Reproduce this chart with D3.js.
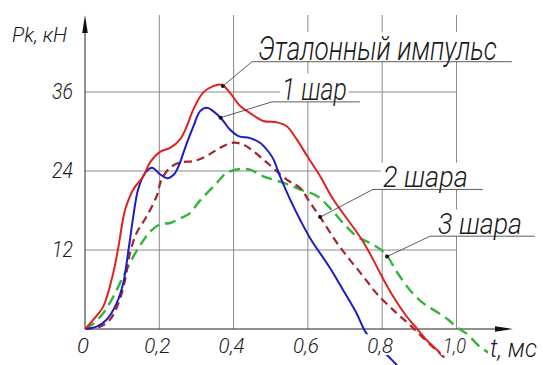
<!DOCTYPE html>
<html>
<head>
<meta charset="utf-8">
<script src="https://cdn.jsdelivr.net/npm/d3@7"></script>
<style>
  body { margin: 0; background: #fff; }
  text { font-family: Roboto, Lato, "Open Sans", sans-serif; font-weight: 300; font-style: italic; fill: #1a1a1a; }
</style>
</head>
<body>
<div id="chart"></div>
<script>
// impulse data, t (ms) / Pk (kN)
const etalon = [[0,0],[0.022,1.4],[0.049,3.4],[0.076,8.5],[0.090,12.5],[0.108,18.1],[0.130,21.2],[0.157,23.2],[0.175,25.3],[0.202,26.9],[0.229,27.5],[0.256,28.8],[0.274,30.8],[0.292,33.4],[0.318,35.9],[0.345,36.9],[0.368,37.1],[0.390,35.9],[0.417,33.9],[0.444,32.8],[0.480,31.6],[0.516,31.4],[0.543,30.8],[0.570,28.8],[0.601,26.0],[0.633,23.2],[0.668,19.7],[0.745,13.6],[0.776,10.5],[0.799,8.0],[0.830,4.9],[0.866,1.9],[0.893,0.1],[0.920,-1.7],[0.956,-3.6]];
const ball1 = [[0,0],[0.031,0.35],[0.058,1.4],[0.085,3.9],[0.103,7.0],[0.117,12.0],[0.130,17.1],[0.143,21.2],[0.162,23.7],[0.180,24.5],[0.202,23.5],[0.221,22.9],[0.240,23.5],[0.256,25.3],[0.265,26.8],[0.292,30.8],[0.310,33.1],[0.328,33.6],[0.345,33.1],[0.368,31.9],[0.390,30.3],[0.413,29.3],[0.444,29.0],[0.471,28.3],[0.493,27.0],[0.507,25.8],[0.525,23.2],[0.552,19.7],[0.579,16.6],[0.606,13.8],[0.659,9.3],[0.695,5.9],[0.731,2.4],[0.758,-0.7],[0.821,-4.4],[0.840,-5.5]];
const ball2 = [[0,0],[0.040,0.35],[0.067,1.4],[0.090,3.9],[0.108,7.5],[0.121,11.5],[0.139,14.6],[0.166,17.1],[0.193,20.2],[0.206,22.7],[0.229,24.5],[0.256,25.3],[0.292,25.5],[0.328,26.3],[0.363,27.5],[0.399,28.3],[0.426,28.0],[0.453,27.0],[0.489,25.3],[0.543,22.7],[0.579,21.4],[0.606,19.2],[0.633,17.0],[0.678,13.1],[0.713,10.5],[0.749,8.0],[0.785,5.4],[0.839,2.4],[0.875,0.6],[0.902,-0.9],[0.974,-4.7]];
const ball3 = [[0,0],[0.022,0.8],[0.049,2.4],[0.076,4.9],[0.103,8.0],[0.130,11.0],[0.153,13.1],[0.175,14.8],[0.202,15.9],[0.229,16.1],[0.256,16.8],[0.283,17.6],[0.305,19.2],[0.355,22.2],[0.381,23.7],[0.417,24.3],[0.444,24.2],[0.480,23.2],[0.534,22.2],[0.579,21.2],[0.624,20.2],[0.659,18.4],[0.695,16.1],[0.731,14.1],[0.776,12.8],[0.808,11.5],[0.839,8.7],[0.875,5.9],[0.911,3.9],[0.947,2.6],[0.978,1.4],[1.000,0.3],[1.027,-0.7],[1.063,-2.7],[1.090,-3.7]];

const xTicks = [0, 0.2, 0.4, 0.6, 0.8, 1.0];
const xTickLabels = ["0", "0,2", "0,4", "0,6", "0,8", "1,0"];
const yTicks = [12, 24, 36];
const yTickLabels = ["12", "24", "36"];

const names = ["Эталонный импульс", "1 шар", "2 шара", "3 шара"];
// point on the curve the leader starts from (t, P)
const anchors = [[0.371, 36.9], [0.365, 32.1], [0.633, 17.0], [0.813, 11.0]];

const width = 543, height = 365;

const svg = d3.select("#chart").append("svg")
    .attr("width", width)
    .attr("height", height);

const x = d3.scaleLinear().domain([0, 1]).range([85, 456.5]);
const y = d3.scaleLinear().domain([0, 36]).range([329, 92]);

// grid
svg.append("g").selectAll("line")
    .data(xTicks.slice(1))
    .enter().append("line")
    .attr("x1", d => x(d)).attr("x2", d => x(d))
    .attr("y1", 15).attr("y2", y(0))
    .attr("stroke", "#8a8a8a").attr("stroke-width", 1);

svg.append("g").selectAll("line")
    .data(yTicks)
    .enter().append("line")
    .attr("x1", x(0)).attr("x2", x(1))
    .attr("y1", d => y(d)).attr("y2", d => y(d))
    .attr("stroke", "#8a8a8a").attr("stroke-width", 1);

// axes with arrows
svg.append("line")
    .attr("x1", x(0)).attr("x2", x(0))
    .attr("y1", y(0)).attr("y2", 30)
    .attr("stroke", "#222").attr("stroke-width", 1);
svg.append("path")
    .attr("d", `M${x(0)},15 L${x(0) - 2.8},33 L${x(0) + 2.8},33 Z`)
    .attr("fill", "#111");

svg.append("line")
    .attr("x1", x(0)).attr("x2", 498)
    .attr("y1", y(0)).attr("y2", y(0))
    .attr("stroke", "#222").attr("stroke-width", 1);
svg.append("path")
    .attr("d", `M513,${y(0)} L495,${y(0) - 2.8} L495,${y(0) + 2.8} Z`)
    .attr("fill", "#111");

// curves
const line = d3.line()
    .x(d => x(d[0]))
    .y(d => y(d[1]))
    .curve(d3.curveCatmullRom.alpha(0.5));

const series = [
    {data: ball3, color: "#33b53a", width: 2.4, dash: "11,6"},
    {data: ball2, color: "#a8232e", width: 2.2, dash: "8,5"},
    {data: ball1, color: "#1d1dc4", width: 2, dash: null},
    {data: etalon, color: "#e0221e", width: 2, dash: null}
];

series.forEach(s => {
    svg.append("path")
        .datum(s.data)
        .attr("d", line)
        .attr("fill", "none")
        .attr("stroke", s.color)
        .attr("stroke-width", s.width)
        .attr("stroke-dasharray", s.dash);
});

// text (optionally on white so lines break under it); squeezed sideways for the narrow drafting look
function label(g, txt, px, py, anchor, size, len, bg) {
    const holder = g.append("g");
    const t = holder.append("text")
        .attr("x", 0).attr("y", 0)
        .style("font-size", size + "px")
        .text(txt);
    const w = t.node().getComputedTextLength();
    const sx = len ? len / w : 1;
    const wOut = w * sx;
    const left = anchor === "end" ? px - wOut : anchor === "middle" ? px - wOut / 2 : px;
    holder.attr("transform", `translate(${left},${py}) scale(${sx},1)`);
    if (bg) {
        g.insert("rect", "g")
            .attr("x", left - 2).attr("y", py - size * 0.75 - 3)
            .attr("width", wOut + 4).attr("height", size * 0.75 + 5)
            .attr("fill", "#fff");
    }
    return t;
}

const xLabelLen = [12, 26, 26, 26, 26, 23];
xTicks.forEach((v, i) => {
    label(svg.append("g"), xTickLabels[i], x(v) - 2, 353, "middle", 21, xLabelLen[i], true);
});
yTicks.forEach((v, i) => {
    label(svg.append("g"), yTickLabels[i], 73, y(v) + 7, "end", 22, 21, true);
});

label(svg.append("g"), "Pk, кН", 12, 42, "start", 21, 55, false);
label(svg.append("g"), "t, мс", 490, 357, "start", 26, 47, true);

// leaders and labels
const shelves = [
    {tx: 0.4495, p: 40.6, tEnd: 1.149, dx: 6, size: 33, len: 239},
    {tx: 0.503, p: 34.5, tEnd: 0.740, dx: 10, size: 31, len: 65},
    {tx: 0.775, p: 21.2, tEnd: 1.071, dx: 10, size: 29, len: 85},
    {tx: 0.929, p: 14.1, tEnd: 1.211, dx: 8, size: 29, len: 84}
];

names.forEach((name, i) => {
    const s = shelves[i];
    const a = anchors[i];
    const g = svg.append("g");
    label(g, name, x(s.tx) + s.dx, y(s.p) - 2, "start", s.size, s.len, true);
    g.append("path")
        .attr("d", `M${x(a[0])},${y(a[1])} L${x(s.tx)},${y(s.p)} L${x(s.tEnd)},${y(s.p)}`)
        .attr("fill", "none")
        .attr("stroke", "#333")
        .attr("stroke-width", 0.8);
    g.append("circle")
        .attr("cx", x(a[0])).attr("cy", y(a[1]))
        .attr("r", 2)
        .attr("fill", "#111");
});
</script>
</body>
</html>
